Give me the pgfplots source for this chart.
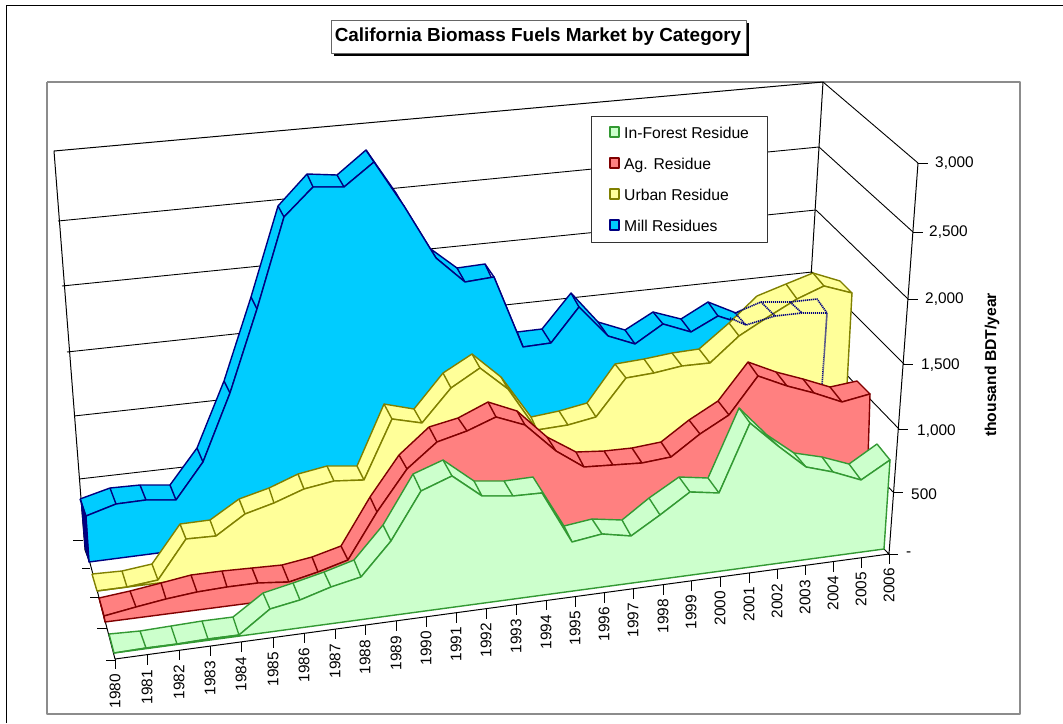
\documentclass[border=0pt]{standalone}
\usepackage{fontspec}
\setmainfont{Liberation Sans}
\usepackage{pgfplots}
\pgfplotsset{compat=1.18}
\definecolor{millF}{HTML}{00CCFF}\definecolor{millE}{HTML}{000080}
\definecolor{urbF}{HTML}{FFFF99}\definecolor{urbE}{HTML}{808000}
\definecolor{agF}{HTML}{FF8080}\definecolor{agE}{HTML}{800000}
\definecolor{forF}{HTML}{CCFFCC}\definecolor{forE}{HTML}{339933}
\newcommand\lab{\fontsize{15.4}{18}\selectfont}
\newcommand\leg{\fontsize{15.7}{18}\selectfont}
\begin{document}
\begin{tikzpicture}
\path[use as bounding box] (0,0) rectangle (1063pt,723pt);
\begin{axis}[at={(0,0)},anchor=south west,scale only axis,width=1063pt,height=723pt,
  xmin=0,xmax=1063,ymin=0,ymax=723,y dir=reverse,axis lines=none,ticks=none,clip=false,
  unbounded coords=jump,line join=round]
% frames
\addplot[black,line width=1pt] coordinates {(6,723)(6,5)(1063,5)};
\addplot[gray!90,line width=1.5pt] coordinates {(47,82)(1020,82)(1020,714)(47,714)(47,82)};
% walls and grid
\addplot[black,line width=1pt] coordinates {(85,550)(54,151)(823,82)(800,456)};
\addplot[black,line width=0.9pt] coordinates {(58,221)(819,147)(nan,nan)(62,286)(816,210)(nan,nan)(67,352)(812,272)(nan,nan)(74,416)(808,335)(nan,nan)(79,479)(804,396)(nan,nan)
 (823,82)(918,163)(nan,nan)(819,147)(913,232)(nan,nan)(816,210)(908,299)(nan,nan)(812,272)(904,364)(nan,nan)(808,335)(899,429)(nan,nan)(804,396)(893,492)};
\addplot[black,line width=1pt] coordinates {(918,163)(889,554)(115,659)(90,563)(85,550)(nan,nan)(884,549)(889,554)};
% value ticks
\addplot[black,line width=0.9pt] coordinates {(918,163)(928,163)(nan,nan)(913,232)(923,232)(nan,nan)(908,299)(918,299)(nan,nan)(903,364)(913,364)(nan,nan)(898,429)(908,429)(nan,nan)(893,492)(903,492)(nan,nan)(888,554)(898,554)(nan,nan)
 (73,540)(83,540)(nan,nan)(82,568)(90,568)(nan,nan)(90,597)(99,597)(nan,nan)(97,628)(107,628)(nan,nan)(106,660)(115,660)};
% year ticks
\addplot[black,line width=0.9pt] coordinates {(115,659)(115,669)(nan,nan)(147,655)(147,665)(nan,nan)(179,650)(179,660)(nan,nan)(210,646)(210,656)(nan,nan)(241,642)(241,652)(nan,nan)(273,638)(273,648)(nan,nan)(304,633)(304,643)(nan,nan)(335,629)(335,639)(nan,nan)(365,625)(365,635)(nan,nan)(396,621)(396,631)(nan,nan)(426,617)(426,627)(nan,nan)(456,613)(456,623)(nan,nan)(486,609)(486,619)(nan,nan)(516,605)(516,615)(nan,nan)(546,600)(546,610)(nan,nan)(575,597)(575,607)(nan,nan)(604,593)(604,603)(nan,nan)(633,589)(633,599)(nan,nan)(663,585)(663,595)(nan,nan)(691,581)(691,591)(nan,nan)(720,577)(720,587)(nan,nan)(749,573)(749,583)(nan,nan)(777,569)(777,579)(nan,nan)(805,565)(805,575)(nan,nan)(833,562)(833,572)(nan,nan)(861,558)(861,568)(nan,nan)(889,554)(889,564)};
\addplot[draw=none,mark=none,nodes near coords,point meta=explicit symbolic,
  nodes near coords align={anchor=east},
  nodes near coords style={rotate=90,inner sep=0pt,font=\lab,text=black}]
 table[x=x,y=y,meta=l] {
x y l
115 674 1980
147 670 1981
179 665 1982
210 661 1983
241 657 1984
273 652 1985
304 648 1986
335 644 1987
365 640 1988
396 636 1989
426 631 1990
456 627 1991
486 623 1992
516 619 1993
546 615 1994
575 611 1995
604 607 1996
633 603 1997
663 599 1998
691 595 1999
720 591 2000
749 587 2001
777 584 2002
805 580 2003
833 576 2004
861 572 2005
889 568 2006
};
% Mill residues
\addplot[fill=millF,draw=millE,line width=1.4pt] coordinates {(80,499)(110,488)(140,485)(170,485)(197,448)(224,381)(251,297)(278,206)(307,174)(337,175)(366,150)(396,193)(428,247)(457,268)(485,264)(517,332)(542,329)(571,293)(598,322)(625,330)(653,312)(681,319)(708,302)(736,313)(761,302)(790,302)(817,299)
 (827,313)(802,313)(775,316)(746,325)(718,316)(691,332)(663,324)(635,344)(608,336)(579,307)(551,343)(523,347)(494,277)(465,282)(436,258)(404,206)(374,162)(344,187)(313,187)(284,217)(257,309)(230,393)(203,462)(176,500)(146,500)(116,504)(86,516)(80,499)};
\addplot[millE,line width=1.4pt] coordinates {(110,488)(116,504)(nan,nan)(140,485)(146,500)(nan,nan)(170,485)(176,500)(nan,nan)(197,448)(203,462)(nan,nan)(224,381)(230,393)(nan,nan)(251,297)(257,309)(nan,nan)(278,206)(284,217)(nan,nan)(307,174)(313,187)(nan,nan)(337,175)(344,187)(nan,nan)(366,150)(374,162)(nan,nan)(428,247)(436,258)(nan,nan)(457,268)(465,282)(nan,nan)(485,264)(494,277)(nan,nan)(517,332)(523,347)(nan,nan)(542,329)(551,343)(nan,nan)(571,293)(579,307)(nan,nan)(598,322)(608,336)(nan,nan)(625,330)(635,344)(nan,nan)(653,312)(663,324)(nan,nan)(681,319)(691,332)(nan,nan)(708,302)(718,316)};
\addplot[fill=millF,draw=millE,line width=1.4pt] coordinates {(86,516)(116,504)(146,500)(176,500)(203,462)(230,393)(257,309)(284,217)(313,187)(344,187)(374,162)(404,206)(436,258)(465,282)(494,277)(523,347)(551,343)(579,307)(608,336)(635,344)(663,324)(691,332)(718,316)(746,325)(775,316)(802,313)(827,313)(822,386)(820,467)(89,562)(86,516)};
\addplot[fill=millE,draw=millE,line width=0.8pt] coordinates {(81,500)(86,516)(89,562)(85,548)(81,500)};
% Urban residue
\addplot[fill=urbF,draw=urbE,line width=1.4pt] coordinates {(92,574)(122,571)(152,564)(180,524)(210,520)(239,499)(269,488)(298,474)(327,466)(357,466)(384,404)(414,409)(443,373)(472,354)(501,377)(531,417)(559,411)(587,403)(615,364)(644,359)(672,353)(699,349)(729,323)(757,296)(786,284)(813,273)(840,281)
 (852,293)(824,286)(797,299)(768,317)(739,336)(710,363)(682,366)(654,373)(626,378)(596,417)(568,425)(537,430)(508,389)(480,368)(451,388)(422,423)(392,419)(364,480)(334,481)(304,489)(274,503)(245,514)(216,536)(186,539)(158,580)(127,587)(97,591)(92,574)};
\addplot[urbE,line width=1.4pt] coordinates {(122,571)(127,587)(nan,nan)(152,564)(158,580)(nan,nan)(180,524)(186,539)(nan,nan)(210,520)(216,536)(nan,nan)(239,499)(245,514)(nan,nan)(269,488)(274,503)(nan,nan)(298,474)(304,489)(nan,nan)(327,466)(334,481)(nan,nan)(357,466)(364,480)(nan,nan)(384,404)(392,419)(nan,nan)(414,409)(422,423)(nan,nan)(443,373)(451,388)(nan,nan)(472,354)(480,368)(nan,nan)(501,377)(508,389)(nan,nan)(531,417)(537,430)(nan,nan)(559,411)(568,425)(nan,nan)(587,403)(596,417)(nan,nan)(615,364)(626,378)(nan,nan)(644,359)(654,373)(nan,nan)(672,353)(682,366)(nan,nan)(699,349)(710,363)(nan,nan)(729,323)(739,336)(nan,nan)(786,284)(797,299)(nan,nan)(813,273)(824,286)};
\addplot[fill=urbF,draw=urbE,line width=1.4pt] coordinates {(97,591)(127,587)(158,580)(186,539)(216,536)(245,514)(274,503)(304,489)(334,481)(364,480)(392,419)(422,423)(451,388)(480,368)(508,389)(537,430)(568,425)(596,417)(626,378)(654,373)(682,366)(710,363)(739,336)(768,317)(797,299)(824,286)(852,293)(847,385)(845,494)(97,591)};
% hidden part of Mill residues, dotted
\addplot[millE,line width=1.6pt,dash pattern=on 1.2pt off 0.8pt] coordinates {(735,313)(761,302)(790,302)(817,299)(827,313)(822,386)(nan,nan)(730,318)(746,325)(775,316)(802,313)(827,313)(nan,nan)(735,313)(746,325)(nan,nan)(761,302)(775,316)(nan,nan)(790,302)(802,313)};
% Ag residue
\addplot[fill=agF,draw=agE,line width=1.4pt] coordinates {(99,598)(130,591)(161,583)(191,575)(222,571)(252,568)(282,565)(312,557)(341,546)(370,497)(399,455)(429,427)(458,418)(488,402)(517,411)(547,437)(576,452)(604,451)(632,448)(661,442)(689,420)(718,401)(748,362)(776,372)(803,379)(830,387)(857,381)
 (870,394)(842,402)(814,393)(787,386)(758,376)(729,415)(700,434)(671,457)(642,463)(613,465)(584,467)(556,451)(525,425)(496,417)(467,431)(437,442)(407,469)(377,512)(348,560)(318,572)(289,582)(258,583)(227,587)(197,592)(166,599)(136,607)(104,616)(99,598)};
\addplot[agE,line width=1.4pt] coordinates {(130,591)(136,607)(nan,nan)(161,583)(166,599)(nan,nan)(191,575)(197,592)(nan,nan)(222,571)(227,587)(nan,nan)(252,568)(258,583)(nan,nan)(282,565)(289,582)(nan,nan)(312,557)(318,572)(nan,nan)(341,546)(348,560)(nan,nan)(370,497)(377,512)(nan,nan)(399,455)(407,469)(nan,nan)(429,427)(437,442)(nan,nan)(458,418)(467,431)(nan,nan)(488,402)(496,417)(nan,nan)(517,411)(525,425)(nan,nan)(547,437)(556,451)(nan,nan)(576,452)(584,467)(nan,nan)(604,451)(613,465)(nan,nan)(632,448)(642,463)(nan,nan)(661,442)(671,457)(nan,nan)(689,420)(700,434)(nan,nan)(718,401)(729,415)(nan,nan)(748,362)(758,376)(nan,nan)(776,372)(787,386)(nan,nan)(803,379)(814,393)(nan,nan)(830,387)(842,402)};
\addplot[fill=agF,draw=agE,line width=1.4pt] coordinates {(104,616)(136,607)(166,599)(197,592)(227,587)(258,583)(289,582)(318,572)(348,560)(377,512)(407,469)(437,442)(467,431)(496,417)(525,425)(556,451)(584,467)(613,465)(642,463)(671,457)(700,434)(729,415)(758,376)(787,386)(814,393)(842,402)(870,394)(866,523)(105,622)(104,616)};
\addplot[fill=agE,draw=agE,line width=1pt] coordinates {(99,598)(104,616)(105,622)(102,610)(99,598)};
% In-forest residue
\addplot[fill=forF,draw=forE,line width=1.4pt] coordinates {(109,634)(140,631)(171,626)(202,621)(233,617)(263,593)(293,583)(324,572)(354,560)(383,525)(413,474)(443,460)(474,481)(504,481)(533,477)(564,526)(592,519)(622,520)(649,498)(679,477)(708,478)(739,408)(767,435)(794,453)(822,457)(849,464)(877,444)
 (890,460)(861,480)(833,472)(806,467)(778,446)(750,423)(719,493)(690,492)(660,515)(631,536)(602,534)(572,542)(542,493)(513,496)(482,496)(452,476)(421,491)(391,541)(361,577)(331,587)(300,600)(270,609)(239,635)(208,639)(177,644)(146,648)(114,653)(109,634)};
\addplot[forE,line width=1.4pt] coordinates {(140,631)(146,648)(nan,nan)(171,626)(177,644)(nan,nan)(202,621)(208,639)(nan,nan)(233,617)(239,635)(nan,nan)(263,593)(270,609)(nan,nan)(293,583)(300,600)(nan,nan)(324,572)(331,587)(nan,nan)(354,560)(361,577)(nan,nan)(383,525)(391,541)(nan,nan)(413,474)(421,491)(nan,nan)(443,460)(452,476)(nan,nan)(474,481)(482,496)(nan,nan)(504,481)(513,496)(nan,nan)(564,526)(572,542)(nan,nan)(592,519)(602,534)(nan,nan)(622,520)(631,536)(nan,nan)(649,498)(660,515)(nan,nan)(679,477)(690,492)(nan,nan)(708,478)(719,493)(nan,nan)(739,408)(750,423)(nan,nan)(767,435)(778,446)(nan,nan)(794,453)(806,467)(nan,nan)(822,457)(833,472)(nan,nan)(849,464)(861,480)};
\addplot[fill=forF,draw=forE,line width=1.4pt] coordinates {(114,653)(146,648)(177,644)(208,639)(239,635)(270,609)(300,600)(331,587)(361,577)(391,541)(421,491)(452,476)(482,496)(513,496)(542,493)(572,542)(602,534)(631,536)(660,515)(690,492)(719,493)(750,423)(778,446)(806,467)(833,472)(861,480)(890,460)(884,549)(114,653)};
% value labels
\node[anchor=west,inner sep=0pt,font=\lab] at (axis cs:935,163) {3,000};
\node[anchor=west,inner sep=0pt,font=\lab] at (axis cs:929,232) {2,500};
\node[anchor=west,inner sep=0pt,font=\lab] at (axis cs:925,299) {2,000};
\node[anchor=west,inner sep=0pt,font=\lab] at (axis cs:921,365) {1,500};
\node[anchor=west,inner sep=0pt,font=\lab] at (axis cs:917,431) {1,000};
\node[anchor=west,inner sep=0pt,font=\lab] at (axis cs:911,494) {500};
\node[anchor=west,inner sep=0pt,font=\lab] at (axis cs:906,554) {-};
\node[rotate=90,inner sep=0pt,font=\fontsize{15.7}{18}\selectfont\bfseries] at (axis cs:992,365) {thousand BDT/year};
% legend
\draw[fill=white,draw=black!80,line width=1pt] (axis cs:591,116) rectangle (axis cs:767,242);
\draw[fill=forF,draw=forE,line width=1.2pt] (axis cs:610,127) rectangle (axis cs:619,137);
\draw[fill=agF,draw=agE,line width=1.2pt] (axis cs:610,158) rectangle (axis cs:619,168);
\draw[fill=urbF,draw=urbE,line width=1.2pt] (axis cs:610,189) rectangle (axis cs:619,199);
\draw[fill=millF,draw=millE,line width=1.2pt] (axis cs:610,220) rectangle (axis cs:619,230);
\node[anchor=west,inner sep=0pt,font=\leg] at (axis cs:624,133) {In-Forest Residue};
\node[anchor=west,inner sep=0pt,font=\leg] at (axis cs:624,165) {Ag. Residue};
\node[anchor=west,inner sep=0pt,font=\leg] at (axis cs:624,195) {Urban Residue};
\node[anchor=west,inner sep=0pt,font=\leg] at (axis cs:624,226) {Mill Residues};
% title
\fill[black] (axis cs:334,23) rectangle (axis cs:749,56);
\draw[fill=white,draw=black!60,line width=1pt] (axis cs:331,20) rectangle (axis cs:746,53);
\node[inner sep=0pt,font=\fontsize{18.9}{22}\selectfont\bfseries] at (axis cs:538,37) {California Biomass Fuels Market by Category};
\end{axis}
\end{tikzpicture}
\end{document}
